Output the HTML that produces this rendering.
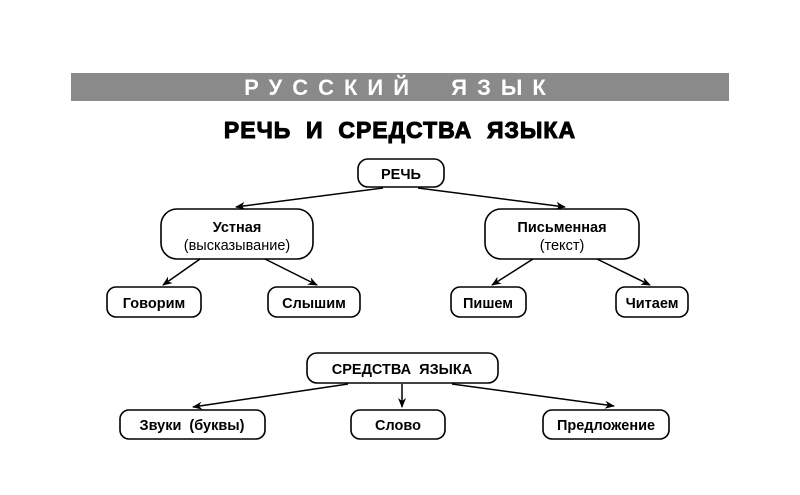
<!DOCTYPE html>
<html><head><meta charset="utf-8"><style>
html,body{margin:0;padding:0;background:#fff;width:800px;height:495px;overflow:hidden}
text{font-family:"Liberation Sans",sans-serif;fill:#000;white-space:pre}
</style></head><body>
<svg width="800" height="495" viewBox="0 0 800 495" xmlns="http://www.w3.org/2000/svg" xml:space="preserve">
<defs><marker id="a" markerWidth="10" markerHeight="8" refX="9" refY="4" orient="auto" markerUnits="userSpaceOnUse"><path d="M0,0 L10,4 L0,8 L3,4 Z" fill="#000"/></marker></defs>
<rect x="71" y="73" width="658" height="28" fill="#8a8a8a"/>
<text x="400" y="95" text-anchor="middle" font-size="22" font-weight="bold" style="fill:#fff" letter-spacing="10">РУССКИЙ  ЯЗЫК</text>
<text x="400" y="138" text-anchor="middle" font-size="23" font-weight="900" stroke="#000" stroke-width="1" letter-spacing="1">РЕЧЬ  И  СРЕДСТВА  ЯЗЫКА</text>
<g fill="#fff" stroke="#000" stroke-width="1.6">
<rect x="358" y="159" width="86" height="28" rx="10"/>
<rect x="161" y="209" width="152" height="50" rx="16"/>
<rect x="485" y="209" width="154" height="50" rx="16"/>
<rect x="107" y="287" width="94" height="30" rx="9"/>
<rect x="268" y="287" width="92" height="30" rx="9"/>
<rect x="451" y="287" width="75" height="30" rx="9"/>
<rect x="616" y="287" width="72" height="30" rx="9"/>
<rect x="307" y="353" width="191" height="30" rx="10"/>
<rect x="120" y="410" width="145" height="29" rx="9"/>
<rect x="351" y="410" width="94" height="29" rx="9"/>
<rect x="543" y="410" width="126" height="29" rx="9"/>
</g>
<g stroke="#000" stroke-width="1.5" marker-end="url(#a)">
<line x1="383" y1="188" x2="236" y2="207"/>
<line x1="418" y1="188" x2="565" y2="207"/>
<line x1="200" y1="259" x2="163" y2="285"/>
<line x1="265" y1="259" x2="317" y2="285"/>
<line x1="533" y1="259" x2="492" y2="285"/>
<line x1="597" y1="259" x2="650" y2="285"/>
<line x1="348" y1="384" x2="193" y2="407"/>
<line x1="402" y1="384" x2="402" y2="407"/>
<line x1="452" y1="384" x2="614" y2="406"/>
</g>
<g font-weight="bold" font-size="14.5" text-anchor="middle">
<text x="401" y="179">РЕЧЬ</text>
<text x="237" y="232">Устная</text>
<text x="562" y="232">Письменная</text>
<text x="154" y="308">Говорим</text>
<text x="314" y="308">Слышим</text>
<text x="488" y="308">Пишем</text>
<text x="652" y="308">Читаем</text>
<text x="402" y="374">СРЕДСТВА  ЯЗЫКА</text>
<text x="192" y="430">Звуки  (буквы)</text>
<text x="398" y="430">Слово</text>
<text x="606" y="430">Предложение</text>
</g>
<g font-size="14.5" text-anchor="middle">
<text x="237" y="250">(высказывание)</text>
<text x="562" y="250">(текст)</text>
</g>
</svg>
</body></html>
